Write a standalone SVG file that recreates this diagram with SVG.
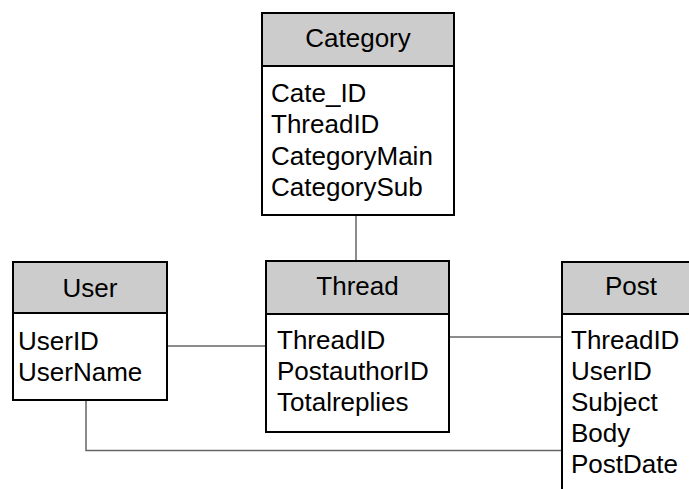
<svg xmlns="http://www.w3.org/2000/svg" width="689" height="489" viewBox="0 0 689 489">
  <style>
    .box { fill: #ffffff; stroke: #000000; stroke-width: 2; }
    .head { fill: #cccccc; stroke: #000000; stroke-width: 2; }
    .title { font-family: "Liberation Sans", Arial, sans-serif; font-size: 26px; fill: #000000; text-anchor: middle; }
    .field { font-family: "Liberation Sans", Arial, sans-serif; font-size: 26px; fill: #000000; }
    .link { fill: none; stroke: #666666; stroke-width: 1.5; }
  </style>

  <!-- relationship lines -->
  <g id="connectors">
    <line class="link" x1="356" y1="215" x2="356" y2="261"/>
    <line class="link" x1="167" y1="346" x2="266" y2="346"/>
    <line class="link" x1="449" y1="337" x2="562" y2="337"/>
    <polyline class="link" points="86,400 86,450.5 562,450.5"/>
  </g>

  <!-- Category table -->
  <g id="category">
    <rect class="box" x="262" y="13" width="192" height="202"/>
    <rect class="head" x="262" y="13" width="192" height="53"/>
    <text class="title" x="358" y="47">Category</text>
    <text class="field" x="271" y="102">Cate_ID</text>
    <text class="field" x="271" y="133">ThreadID</text>
    <text class="field" x="271" y="164.5">CategoryMain</text>
    <text class="field" x="271" y="196">CategorySub</text>
  </g>

  <!-- User table -->
  <g id="user">
    <rect class="box" x="13" y="262" width="154" height="138"/>
    <rect class="head" x="13" y="262" width="154" height="51"/>
    <text class="title" x="90" y="296.5">User</text>
    <text class="field" x="18" y="350">UserID</text>
    <text class="field" x="18" y="381">UserName</text>
  </g>

  <!-- Thread table -->
  <g id="thread">
    <rect class="box" x="266" y="261" width="183" height="171"/>
    <rect class="head" x="266" y="261" width="183" height="53"/>
    <text class="title" x="357.5" y="295">Thread</text>
    <text class="field" x="277" y="349">ThreadID</text>
    <text class="field" x="277" y="380">PostauthorID</text>
    <text class="field" x="277" y="411">Totalreplies</text>
  </g>

  <!-- Post table (runs past the right and bottom edges) -->
  <g id="post">
    <rect class="box" x="562" y="262" width="160" height="260"/>
    <rect class="head" x="562" y="262" width="160" height="52"/>
    <text class="title" x="631" y="295">Post</text>
    <text class="field" x="571" y="348.5">ThreadID</text>
    <text class="field" x="571" y="380">UserID</text>
    <text class="field" x="571" y="411">Subject</text>
    <text class="field" x="571" y="442">Body</text>
    <text class="field" x="571" y="473">PostDate</text>
  </g>
</svg>
